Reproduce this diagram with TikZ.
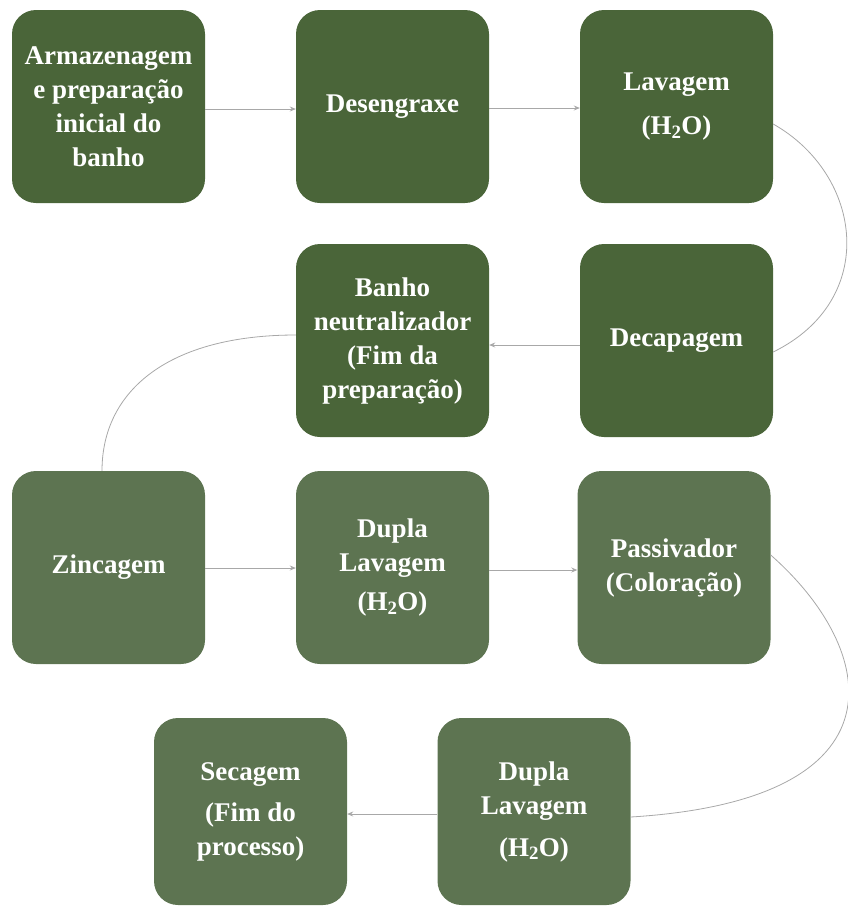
\documentclass[tikz,border=0pt]{standalone}
\usepackage{fontspec}
\setmainfont{Liberation Serif}
\usetikzlibrary{arrows.meta}
\definecolor{darkg}{HTML}{4A6539}
\definecolor{softg}{HTML}{5D7451}
\definecolor{linkc}{HTML}{A8A8A8}
\tikzset{
  stepbox/.style={rounded corners=24pt, minimum width=193pt, minimum height=193pt,
    inner sep=0pt, align=center, text=white,
    font=\bfseries\fontsize{27}{34}\selectfont},
  topbox/.style={stepbox, fill=darkg},
  lowbox/.style={stepbox, fill=softg},
  arr/.style={draw=linkc, line width=0.8pt, -{Stealth[length=6pt,width=5pt]}},
  curvelink/.style={draw=linkc, line width=0.8pt}
}
\begin{document}
\begin{tikzpicture}[x=1pt,y=-1pt]
\useasboundingbox (0,0) rectangle (848,906);
\node[topbox] (b1) at (108.5,106.5) {Armazenagem\\e preparação\\inicial do\\banho};
\node[topbox] (b2) at (392.5,106.5) {Desengraxe};
\node[topbox] (b3) at (676.5,106.5) {Lavagem\\[10pt](H\textsubscript{2}O)};
\node[topbox] (b4) at (676.5,340.5) {Decapagem};
\node[topbox] (b5) at (392.5,340.5) {Banho\\neutralizador\\(Fim da\\preparação)};
\node[lowbox] (b6) at (108.5,567.5) {Zincagem};
\node[lowbox] (b7) at (392.5,567.5) {Dupla\\Lavagem\\[5pt](H\textsubscript{2}O)};
\node[lowbox] (b8) at (674,567.5) {Passivador\\(Coloração)};
\node[lowbox, minimum height=187pt] (b9) at (534,811.5) {Dupla\\Lavagem\\[8pt](H\textsubscript{2}O)};
\node[lowbox, minimum height=187pt] (b10) at (250.5,811.5) {Secagem\\[7pt](Fim do\\processo)};
\draw[arr] ([yshift=-2.5pt]b1.east) -- ([yshift=-2.5pt]b2.west);
\draw[arr] ([yshift=-1.5pt]b2.east) -- ([yshift=-1.5pt]b3.west);
\draw[curvelink] ([yshift=-17.5pt]b3.east) .. controls +(90,51) and +(106,-52) .. ([yshift=-11.5pt]b4.east);
\draw[arr] ([yshift=-4.5pt]b4.west) -- ([yshift=-4.5pt]b5.east);
\draw[curvelink] ([yshift=5.5pt]b5.west) .. controls +(-126,0) and +(0,-81) .. ([xshift=-6.5pt]b6.north);
\draw[arr] ([yshift=-0.5pt]b6.east) -- ([yshift=-0.5pt]b7.west);
\draw[arr] ([yshift=-2.5pt]b7.east) -- ([yshift=-2.5pt]b8.west);
\draw[curvelink] ([yshift=12.5pt]b8.east) .. controls +(108,95) and +(279,-17) .. ([yshift=-5.5pt]b9.east);
\draw[arr] ([yshift=-2.5pt]b9.west) -- ([yshift=-2.5pt]b10.east);
\end{tikzpicture}
\end{document}
